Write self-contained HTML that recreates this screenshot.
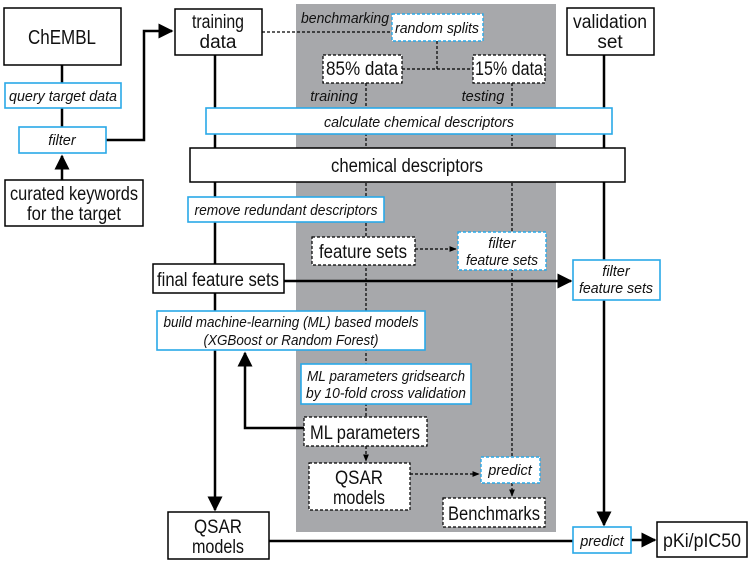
<!DOCTYPE html>
<html><head><meta charset="utf-8"><style>
html,body{margin:0;padding:0;background:#fff}
svg{display:block}
text{font-family:"Liberation Sans",Arial,sans-serif;fill:#111}
.b{font-size:19px}
.i{font-size:14.5px;font-style:italic}
</style></head><body>
<svg width="750" height="565" viewBox="0 0 750 565" xmlns="http://www.w3.org/2000/svg">
<defs>
<marker id="a" viewBox="0 0 10 10" refX="9" refY="5" markerWidth="6" markerHeight="6" orient="auto"><path d="M0,0L10,5L0,10z" fill="#000"/></marker>
<marker id="s" viewBox="0 0 10 10" refX="9" refY="5" markerWidth="6" markerHeight="6" orient="auto"><path d="M0,1L10,5L0,9z" fill="#000"/></marker>
</defs>
<rect x="296" y="4" width="260" height="528" fill="#a7a8ab"/>

<g stroke="#000" stroke-width="2.5" fill="none">
<line x1="62" y1="65" x2="62" y2="83"/>
<line x1="62" y1="108" x2="62" y2="127"/>
<line x1="62" y1="180" x2="62" y2="156" marker-end="url(#a)"/>
<polyline points="106,140 144,140 144,31 172,31" marker-end="url(#a)"/>
<line x1="215" y1="55" x2="215" y2="264"/>
<line x1="215" y1="293" x2="215" y2="510" marker-end="url(#a)"/>
<line x1="284" y1="281" x2="571" y2="281" marker-end="url(#a)"/>
<line x1="604" y1="55" x2="604" y2="260"/>
<line x1="604" y1="300" x2="604" y2="525" marker-end="url(#a)"/>
<polyline points="304,428 245,428 245,353" marker-end="url(#a)"/>
<line x1="269" y1="541" x2="573" y2="541"/>
<line x1="631" y1="540" x2="655" y2="540" marker-end="url(#a)"/>
</g>
<g stroke="#000" stroke-width="1.2" stroke-dasharray="3,2" fill="none">
<line x1="262" y1="32" x2="392" y2="32"/>
<line x1="437" y1="41" x2="437" y2="69"/>
<line x1="402" y1="69" x2="473" y2="69"/>
<line x1="366" y1="83" x2="366" y2="417"/>
<line x1="512" y1="83" x2="512" y2="496" marker-end="url(#s)"/>
<line x1="415" y1="249" x2="456" y2="249" marker-end="url(#s)"/>
<line x1="366" y1="446" x2="366" y2="461" marker-end="url(#s)"/>
<line x1="410" y1="474" x2="479" y2="474" marker-end="url(#s)"/>
</g>

<g fill="#fff" stroke="#000" stroke-width="1.5">
<rect x="4" y="8" width="117" height="57"/>
<rect x="5" y="180" width="138" height="46"/>
<rect x="175" y="9" width="87" height="46"/>
<rect x="567" y="8" width="87" height="47"/>
<rect x="190" y="148" width="435" height="34"/>
<rect x="153" y="264" width="131" height="29"/>
<rect x="168" y="512" width="101" height="47"/>
<rect x="657" y="522" width="90" height="35"/>
</g>
<g fill="#fff" stroke="#000" stroke-width="1.2" stroke-dasharray="3,2">
<rect x="323" y="55" width="79" height="28"/>
<rect x="473" y="55" width="72" height="28"/>
<rect x="312" y="237" width="103" height="28"/>
<rect x="304" y="417" width="123" height="29"/>
<rect x="309" y="463" width="101" height="47"/>
<rect x="443" y="498" width="102" height="29"/>
</g>
<g fill="#fff" stroke="#29a8e8" stroke-width="1.6">
<rect x="5" y="83" width="116" height="25"/>
<rect x="19" y="127" width="87" height="26"/>
<rect x="206" y="108" width="406" height="26"/>
<rect x="188" y="197" width="196" height="25"/>
<rect x="573" y="260" width="87" height="40"/>
<rect x="157" y="311" width="268" height="39"/>
<rect x="301" y="364" width="170" height="40"/>
<rect x="573" y="527" width="58" height="26"/>
</g>
<g fill="#fff" stroke="#29a8e8" stroke-width="1.4" stroke-dasharray="3,2">
<rect x="392" y="14" width="91" height="27"/>
<rect x="458" y="232" width="88" height="38"/>
<rect x="481" y="457" width="59" height="26"/>
</g>

<g class="b" text-anchor="middle" lengthAdjust="spacingAndGlyphs">
<text x="62" y="44" font-size="20" textLength="68" lengthAdjust="spacingAndGlyphs">ChEMBL</text>
<text x="74" y="200" textLength="128" lengthAdjust="spacingAndGlyphs">curated keywords</text>
<text x="74" y="220" textLength="94" lengthAdjust="spacingAndGlyphs">for the target</text>
<text x="218" y="28" textLength="52" lengthAdjust="spacingAndGlyphs">training</text>
<text x="218" y="48">data</text>
<text x="610" y="28" textLength="74" lengthAdjust="spacingAndGlyphs">validation</text>
<text x="610" y="48">set</text>
<text x="362" y="75" textLength="72" lengthAdjust="spacingAndGlyphs">85% data</text>
<text x="509" y="75" textLength="68" lengthAdjust="spacingAndGlyphs">15% data</text>
<text x="407" y="172" textLength="152" lengthAdjust="spacingAndGlyphs">chemical descriptors</text>
<text x="218" y="286" textLength="122" lengthAdjust="spacingAndGlyphs">final feature sets</text>
<text x="363" y="258" textLength="88" lengthAdjust="spacingAndGlyphs">feature sets</text>
<text x="365" y="439" textLength="110" lengthAdjust="spacingAndGlyphs">ML parameters</text>
<text x="359" y="484" textLength="48" lengthAdjust="spacingAndGlyphs">QSAR</text>
<text x="359" y="504" textLength="52" lengthAdjust="spacingAndGlyphs">models</text>
<text x="494" y="520" textLength="92" lengthAdjust="spacingAndGlyphs">Benchmarks</text>
<text x="218" y="533" textLength="48" lengthAdjust="spacingAndGlyphs">QSAR</text>
<text x="218" y="553" textLength="52" lengthAdjust="spacingAndGlyphs">models</text>
<text x="702" y="547" textLength="78" lengthAdjust="spacingAndGlyphs">pKi/pIC50</text>
</g>
<g class="i" text-anchor="middle">
<text x="63" y="101" textLength="108" lengthAdjust="spacingAndGlyphs">query target data</text>
<text x="62" y="145">filter</text>
<text x="437" y="33" textLength="84" lengthAdjust="spacingAndGlyphs">random splits</text>
<text x="345" y="23" textLength="88" lengthAdjust="spacingAndGlyphs">benchmarking</text>
<text x="334" y="101">training</text>
<text x="483" y="101">testing</text>
<text x="419" y="127" textLength="190" lengthAdjust="spacingAndGlyphs">calculate chemical descriptors</text>
<text x="286" y="215" textLength="183" lengthAdjust="spacingAndGlyphs">remove redundant descriptors</text>
<text x="502" y="248">filter</text>
<text x="502" y="265" textLength="72" lengthAdjust="spacingAndGlyphs">feature sets</text>
<text x="616" y="276">filter</text>
<text x="616" y="293" textLength="74" lengthAdjust="spacingAndGlyphs">feature sets</text>
<text x="291" y="327" textLength="255" lengthAdjust="spacingAndGlyphs">build machine-learning (ML) based models</text>
<text x="291" y="345" textLength="175" lengthAdjust="spacingAndGlyphs">(XGBoost or Random Forest)</text>
<text x="386" y="381" textLength="158" lengthAdjust="spacingAndGlyphs">ML parameters gridsearch</text>
<text x="386" y="398" textLength="160" lengthAdjust="spacingAndGlyphs">by 10-fold cross validation</text>
<text x="510" y="475">predict</text>
<text x="602" y="546">predict</text>
</g>
</svg>
</body></html>
